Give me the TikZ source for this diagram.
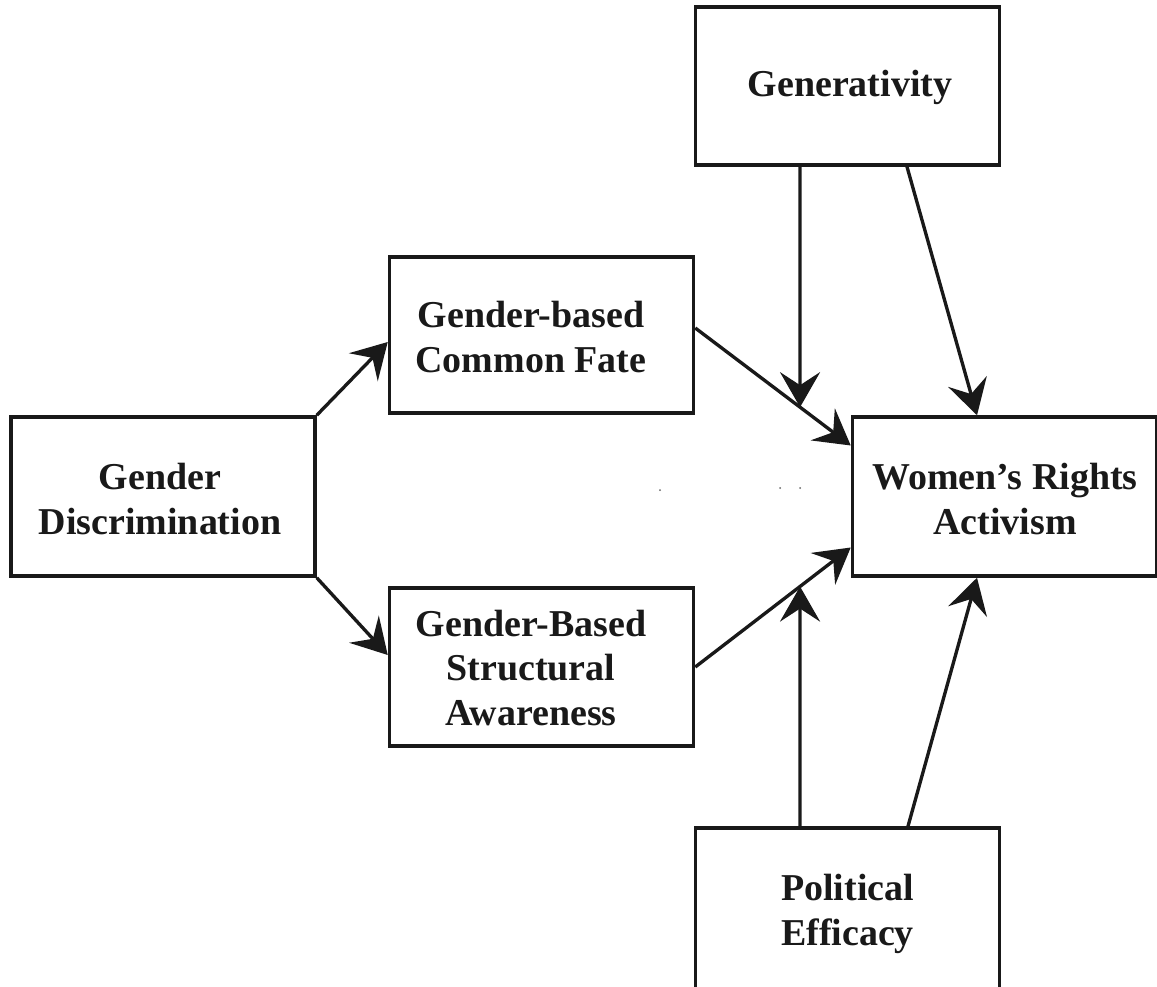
\documentclass[tikz,border=0pt]{standalone}
\usepackage{fontspec}
\setmainfont{Liberation Serif}
\usetikzlibrary{arrows.meta,calc}
\begin{document}
\begin{tikzpicture}[
  box/.style={draw=black!90, line width=2pt, minimum width=#1, inner sep=0pt},
  box/.default=6.08cm,
  lbl/.style={align=center, font=\fontsize{21.6}{25.6}\selectfont\bfseries, text=black!90},
  conn/.style={draw=black!90, line width=1.9pt, -{Stealth[length=0.7cm,width=0.8cm,inset=0.26cm]}}
]
\clip (0,0) rectangle (23.14,-19.74);
\fill[white] (0,0) rectangle (23.14,-19.74);

% boxes
\node[box, minimum height=3.16cm] (GEN) at (16.95,-1.72) {};
\node[box, minimum height=3.12cm] (GCF) at (10.83,-6.70) {};
\node[box, minimum height=3.18cm] (GD)  at (3.26,-9.93) {};
\node[box, minimum height=3.18cm] (WRA) at (20.09,-9.93) {};
\node[box, minimum height=3.16cm] (GSA) at (10.83,-13.34) {};
\node[box, minimum height=3.24cm] (PE)  at (16.95,-18.18) {};

% labels
\node[lbl] (tGEN) at (17.0,-1.75) {Generativity};
\node[lbl] (tGCF) at (10.62,-6.75) {Gender-based\\Common Fate};
\node[lbl] (tGD)  at (3.2,-9.98) {Gender\\Discrimination};
\node[lbl] (tWRA) at (20.1,-9.98) {Women’s Rights\\Activism};
\node[lbl] (tGSA) at (10.62,-13.36) {Gender-Based\\Structural\\Awareness};
\node[lbl] (tPE)  at (16.95,-18.28) {Political\\Efficacy};

% connector end points
\coordinate (gcfOut) at ([yshift=0.14cm]GCF.east);
\coordinate (wraIn1) at ([yshift=1.02cm]WRA.west);
\coordinate (gsaOut) at (GSA.east);
\coordinate (wraIn2) at ([yshift=-1.02cm]WRA.west);
\coordinate (genA) at (GEN.south -| 16.0,0);
\coordinate (genB) at (GEN.south -| 18.14,0);
\coordinate (peA) at (PE.north -| 16.0,0);
\coordinate (peB) at (PE.north -| 18.16,0);
\coordinate (wraTop) at (WRA.north -| 19.54,0);
\coordinate (wraBot) at (WRA.south -| 19.54,0);
\coordinate (m1) at (intersection of gcfOut--wraIn1 and genA--peA);
\coordinate (m2) at (intersection of gsaOut--wraIn2 and genA--peA);

% connectors
\draw[conn] (GD.north east) -- ([yshift=-0.14cm]GCF.west);
\draw[conn] (GD.south east) -- ([yshift=0.24cm]GSA.west);
\draw[conn] (gcfOut) -- (wraIn1);
\draw[conn] (gsaOut) -- (wraIn2);
\draw[conn] (genA) -- (m1);
\draw[conn] (genB) -- (wraTop);
\draw[conn] (peA) -- (m2);
\draw[conn] (peB) -- (wraBot);

% small specks
\fill[black!60] (13.2,-9.8) circle (0.02);
\fill[black!60] (15.6,-9.76) circle (0.02);
\fill[black!60] (16.0,-9.76) circle (0.02);
\end{tikzpicture}
\end{document}
